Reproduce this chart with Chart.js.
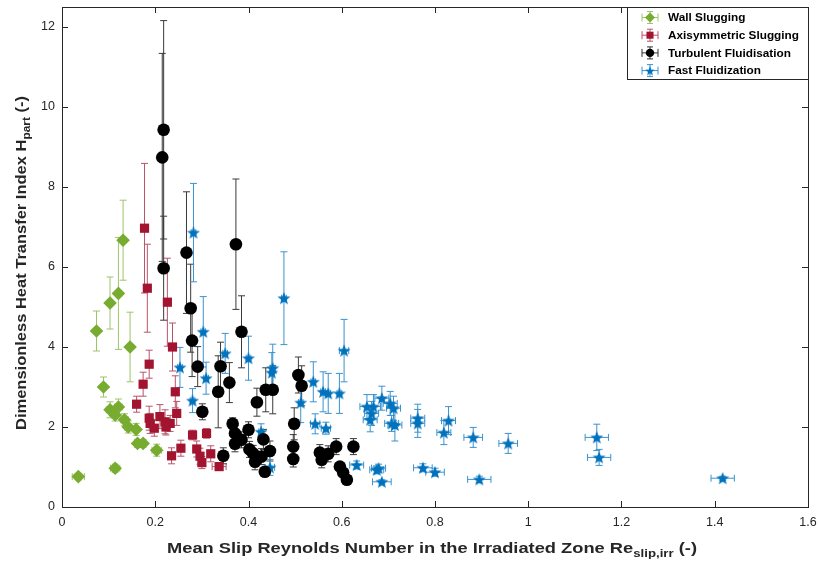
<!DOCTYPE html>
<html>
<head>
<meta charset="utf-8">
<script src="https://cdn.jsdelivr.net/npm/chart.js@4.4.1/dist/chart.umd.min.js"></script>
<style>
  body { margin: 0; background: #fff; }
  #wrap { width: 818px; height: 563px; }
</style>
</head>
<body>
<div id="wrap"><canvas id="heatChart" width="818" height="563"></canvas></div>
<script>
// Data (x = Re_slip,irr, y = H_part, with error half-widths)
const seriesNames = ["Wall Slugging", "Axisymmetric Slugging", "Turbulent Fluidisation", "Fast Fluidization"];

const wallX    = [0.035, 0.114, 0.074, 0.103, 0.121, 0.131, 0.146, 0.089, 0.103, 0.121, 0.114, 0.134, 0.142, 0.159, 0.162, 0.174, 0.203];
const wallY    = [0.76, 0.97, 4.40, 5.10, 5.34, 6.67, 4.00, 3.00, 2.43, 2.50, 2.30, 2.18, 2.00, 1.94, 1.59, 1.59, 1.42];
const wallXErr = [0.013, 0.010, 0.005, 0.005, 0.005, 0.005, 0.005, 0.005, 0.008, 0.008, 0.008, 0.008, 0.008, 0.005, 0.005, 0.005, 0.010];
const wallYErr = [0.08, 0.10, 0.50, 0.65, 1.40, 1.00, 0.87, 0.25, 0.20, 0.20, 0.15, 0.15, 0.15, 0.15, 0.10, 0.10, 0.15];

const axiX    = [0.177, 0.183, 0.226, 0.237, 0.187, 0.174, 0.160, 0.243, 0.246, 0.187, 0.189, 0.198, 0.210, 0.221, 0.232, 0.223, 0.280, 0.310, 0.255, 0.235, 0.289, 0.296, 0.300, 0.319, 0.337];
const axiY    = [6.97, 5.47, 5.12, 4.00, 3.57, 3.07, 2.57, 2.88, 2.34, 2.22, 2.09, 1.97, 2.26, 2.13, 2.09, 2.00, 1.80, 1.84, 1.47, 1.28, 1.45, 1.27, 1.11, 1.33, 1.01];
const axiXErr = [0.005, 0.005, 0.005, 0.005, 0.005, 0.005, 0.005, 0.005, 0.005, 0.005, 0.005, 0.005, 0.005, 0.005, 0.005, 0.005, 0.005, 0.005, 0.005, 0.005, 0.005, 0.005, 0.005, 0.005, 0.015];
const axiYErr = [1.62, 1.10, 1.10, 0.60, 0.35, 0.30, 0.20, 0.40, 0.30, 0.30, 0.25, 0.20, 0.30, 0.30, 0.20, 0.20, 0.12, 0.12, 0.20, 0.20, 0.20, 0.20, 0.15, 0.20, 0.08];

const turbX    = [0.218, 0.215, 0.218, 0.267, 0.373, 0.276, 0.279, 0.291, 0.301, 0.385, 0.340, 0.335, 0.359, 0.418, 0.346, 0.437, 0.452, 0.507, 0.514, 0.498, 0.496, 0.496, 0.366, 0.371, 0.400, 0.371, 0.385, 0.402, 0.410, 0.414, 0.432, 0.446, 0.435, 0.428, 0.553, 0.557, 0.571, 0.588, 0.625, 0.596, 0.603, 0.611];
const turbY    = [9.43, 8.74, 5.97, 6.36, 6.57, 4.97, 4.16, 3.51, 2.38, 4.38, 3.52, 2.88, 3.11, 2.62, 1.28, 2.93, 2.93, 3.30, 3.03, 2.08, 1.51, 1.20, 2.08, 1.84, 1.93, 1.58, 1.68, 1.44, 1.34, 1.13, 1.69, 1.40, 0.88, 1.26, 1.36, 1.18, 1.33, 1.51, 1.51, 1.01, 0.86, 0.68];
const turbXErr = [0.005, 0.005, 0.005, 0.005, 0.005, 0.005, 0.005, 0.005, 0.005, 0.005, 0.005, 0.005, 0.005, 0.005, 0.005, 0.005, 0.005, 0.005, 0.005, 0.005, 0.005, 0.005, 0.005, 0.005, 0.005, 0.005, 0.005, 0.005, 0.005, 0.005, 0.005, 0.005, 0.005, 0.005, 0.010, 0.010, 0.010, 0.010, 0.010, 0.010, 0.010, 0.010];
const turbYErr = [2.73, 2.60, 1.30, 1.52, 1.63, 1.10, 0.90, 0.50, 0.20, 0.90, 0.60, 0.90, 0.50, 0.35, 0.20, 0.55, 0.60, 0.45, 0.50, 0.40, 0.30, 0.20, 0.15, 0.20, 0.20, 0.20, 0.20, 0.20, 0.20, 0.20, 0.25, 0.25, 0.10, 0.20, 0.20, 0.20, 0.20, 0.20, 0.20, 0.10, 0.10, 0.10];

const fastX    = [0.282, 0.303, 0.253, 0.350, 0.400, 0.309, 0.280, 0.476, 0.605, 0.452, 0.450, 0.539, 0.560, 0.571, 0.595, 0.512, 0.543, 0.566, 0.427, 0.446, 0.632, 0.675, 0.679, 0.686, 0.654, 0.664, 0.661, 0.668, 0.686, 0.704, 0.711, 0.707, 0.714, 0.763, 0.763, 0.829, 0.819, 0.882, 0.957, 1.147, 1.152, 0.774, 0.800, 0.895, 1.417];
const fastY    = [6.86, 4.38, 3.49, 3.84, 3.72, 3.22, 2.66, 5.22, 3.91, 3.47, 3.36, 3.13, 2.88, 2.84, 2.84, 2.61, 2.08, 1.97, 1.88, 0.99, 1.05, 0.93, 0.97, 0.63, 2.51, 2.34, 2.18, 2.51, 2.72, 2.59, 2.47, 2.09, 2.05, 2.22, 2.09, 2.16, 1.86, 1.74, 1.59, 1.74, 1.24, 0.98, 0.87, 0.69, 0.72];
const fastXErr = [0.005, 0.005, 0.005, 0.005, 0.005, 0.005, 0.005, 0.005, 0.010, 0.005, 0.005, 0.005, 0.005, 0.005, 0.005, 0.005, 0.010, 0.010, 0.005, 0.010, 0.015, 0.015, 0.015, 0.020, 0.015, 0.015, 0.015, 0.015, 0.015, 0.015, 0.015, 0.015, 0.015, 0.015, 0.015, 0.015, 0.015, 0.020, 0.020, 0.025, 0.025, 0.020, 0.020, 0.025, 0.025];
const fastYErr = [1.23, 0.88, 0.50, 0.50, 0.55, 0.40, 0.30, 1.16, 0.78, 0.60, 0.50, 0.50, 0.50, 0.50, 0.50, 0.50, 0.25, 0.15, 0.20, 0.20, 0.10, 0.10, 0.10, 0.05, 0.30, 0.30, 0.30, 0.30, 0.30, 0.30, 0.30, 0.20, 0.40, 0.35, 0.35, 0.35, 0.30, 0.25, 0.25, 0.33, 0.20, 0.10, 0.10, 0.08, 0.05];

const xTicks = [0, 0.2, 0.4, 0.6, 0.8, 1, 1.2, 1.4, 1.6];
const yTicks = [0, 2, 4, 6, 8, 10, 12];

// colours (MATLAB default palette)
const green = "#77AC30", red = "#A2142F", black = "#000000", blue = "#0072BD";

function makeStar(r, color) {
  const c = document.createElement("canvas");
  const s = Math.ceil(r * 2) + 2;
  c.width = s; c.height = s;
  const g = c.getContext("2d");
  g.fillStyle = color;
  g.beginPath();
  for (let i = 0; i < 10; i++) {
    const rad = i % 2 ? r * 0.42 : r;
    const a = -Math.PI / 2 + i * Math.PI / 5;
    const px = s / 2 + rad * Math.cos(a), py = s / 2 + 0.6 + rad * Math.sin(a);
    if (i === 0) g.moveTo(px, py); else g.lineTo(px, py);
  }
  g.closePath();
  g.fill();
  return c;
}

function pts(xs, ys, xe, ye) {
  return xs.map((x, i) => ({ x: x, y: ys[i], xe: xe[i], ye: ye[i] }));
}

const starBig = makeStar(6.8, blue);
const starSmall = makeStar(5, blue);

const datasets = [
  { label: seriesNames[0], data: pts(wallX, wallY, wallXErr, wallYErr), pointStyle: "rectRot", pointRadius: 6.8,
    backgroundColor: green, borderColor: green, errColor: "#9DC46A" },
  { label: seriesNames[1], data: pts(axiX, axiY, axiXErr, axiYErr), pointStyle: "rect", pointRadius: 6.5,
    backgroundColor: red, borderColor: red, errColor: "#B8546A" },
  { label: seriesNames[2], data: pts(turbX, turbY, turbXErr, turbYErr), pointStyle: "circle", pointRadius: 6.3,
    backgroundColor: black, borderColor: black, errColor: "#3a3a3a" },
  { label: seriesNames[3], data: pts(fastX, fastY, fastXErr, fastYErr), pointStyle: starBig, pointRadius: 6,
    backgroundColor: blue, borderColor: blue, errColor: "#3A93CF" }
];

// error bars drawn below the markers, through the chart scales
const errorBars = {
  id: "errorBars",
  beforeDatasetsDraw(chart) {
    const ctx = chart.ctx, xs = chart.scales.x, ys = chart.scales.y;
    const cap = 3.5;
    ctx.save();
    ctx.lineWidth = 1;
    chart.data.datasets.forEach(ds => {
      ctx.strokeStyle = ds.errColor;
      ds.data.forEach(p => {
        const px = xs.getPixelForValue(p.x), py = ys.getPixelForValue(p.y);
        const y1 = ys.getPixelForValue(p.y - p.ye), y2 = ys.getPixelForValue(p.y + p.ye);
        const x1 = xs.getPixelForValue(p.x - p.xe), x2 = xs.getPixelForValue(p.x + p.xe);
        ctx.beginPath();
        ctx.moveTo(px, y1); ctx.lineTo(px, y2);
        ctx.moveTo(px - cap, y1); ctx.lineTo(px + cap, y1);
        ctx.moveTo(px - cap, y2); ctx.lineTo(px + cap, y2);
        ctx.moveTo(x1, py); ctx.lineTo(x2, py);
        ctx.moveTo(x1, py - cap); ctx.lineTo(x1, py + cap);
        ctx.moveTo(x2, py - cap); ctx.lineTo(x2, py + cap);
        ctx.stroke();
      });
    });
    ctx.restore();
  }
};

// text stretched horizontally to a given width (the reference fonts run wide)
function stretchedParts(ctx, parts, target, align) {
  const w = parts.reduce((s, p) => { ctx.font = p[1]; return s + ctx.measureText(p[0]).width; }, 0);
  const k = target / w;
  ctx.scale(k, 1);
  let x = align === "center" ? -w / 2 : 0;
  parts.forEach(p => {
    ctx.font = p[1];
    ctx.fillText(p[0], x, p[2]);
    x += ctx.measureText(p[0]).width;
  });
}

// axes box, inward ticks, legend and axis titles with subscripts
const frame = {
  id: "frame",
  afterDraw(chart) {
    const ctx = chart.ctx, a = chart.chartArea, xs = chart.scales.x, ys = chart.scales.y;
    ctx.save();
    ctx.strokeStyle = "#262626";
    ctx.lineWidth = 1;
    ctx.strokeRect(Math.round(a.left) + 0.5, Math.round(a.top) + 0.5, Math.round(a.right - a.left), Math.round(a.bottom - a.top));
    ctx.beginPath();
    xTicks.forEach(v => {
      const px = Math.round(xs.getPixelForValue(v)) + 0.5;
      ctx.moveTo(px, a.bottom); ctx.lineTo(px, a.bottom - 6);
      ctx.moveTo(px, a.top); ctx.lineTo(px, a.top + 6);
    });
    yTicks.forEach(v => {
      const py = Math.round(ys.getPixelForValue(v)) + 0.5;
      ctx.moveTo(a.left, py); ctx.lineTo(a.left + 6, py);
      ctx.moveTo(a.right, py); ctx.lineTo(a.right - 6, py);
    });
    ctx.stroke();

    // legend box
    const lx = 627, ly = Math.round(a.top) + 0.5, lw = Math.round(a.right) - lx, lh = 72;
    ctx.fillStyle = "#fff";
    ctx.fillRect(lx, ly, lw, lh);
    ctx.strokeStyle = "#262626";
    ctx.strokeRect(lx + 0.5, ly, lw, lh);
    const icons = [
      { c: "#9DC46A", m: green, s: "rectRot", r: 5 },
      { c: "#B8546A", m: red, s: "rect", r: 5 },
      { c: "#333333", m: black, s: "circle", r: 4.2 },
      { c: "#3A93CF", m: blue, s: starSmall, r: 5 }
    ];
    const legFont = "bold 11.5px 'Liberation Sans', Arial, sans-serif";
    ctx.font = legFont;
    const kLeg = 131 / ctx.measureText(seriesNames[1]).width;
    ctx.textBaseline = "middle";
    seriesNames.forEach((name, i) => {
      const cy = ly + 10 + i * 17.7, cx = 650;
      const ic = icons[i];
      ctx.strokeStyle = ic.c;
      ctx.beginPath();
      ctx.moveTo(cx - 8, cy); ctx.lineTo(cx + 8, cy);
      ctx.moveTo(cx - 8, cy - 4); ctx.lineTo(cx - 8, cy + 4);
      ctx.moveTo(cx + 8, cy - 4); ctx.lineTo(cx + 8, cy + 4);
      ctx.moveTo(cx, cy - 6); ctx.lineTo(cx, cy + 6);
      ctx.moveTo(cx - 3, cy - 6); ctx.lineTo(cx + 3, cy - 6);
      ctx.moveTo(cx - 3, cy + 6); ctx.lineTo(cx + 3, cy + 6);
      ctx.stroke();
      ctx.fillStyle = ic.m;
      Chart.helpers.drawPoint(ctx, { pointStyle: ic.s, radius: ic.r, borderWidth: 0 }, cx, cy);
      ctx.fillStyle = "#000";
      ctx.save();
      ctx.translate(668, cy + 0.5);
      ctx.scale(kLeg, 1);
      ctx.font = legFont;
      ctx.fillText(name, 0, 0);
      ctx.restore();
    });

    // axis titles
    ctx.fillStyle = "#262626";
    const big = "bold 14.5px 'Liberation Sans', Arial, sans-serif";
    const sub = "bold 10.5px 'Liberation Sans', Arial, sans-serif";
    const xParts = [["Mean Slip Reynolds Number in the Irradiated Zone Re", big, 0], ["slip,irr", sub, 4], [" (-)", big, 0]];
    const yParts = [["Dimensionless Heat Transfer Index H", big, 0], ["part", sub, 4], [" (-)", big, 0]];
    ctx.textBaseline = "alphabetic";
    ctx.textAlign = "left";
    ctx.save();
    ctx.translate(432, 553);
    stretchedParts(ctx, xParts, 530, "center");
    ctx.restore();
    ctx.save();
    ctx.translate(26, 263);
    ctx.rotate(-Math.PI / 2);
    stretchedParts(ctx, yParts, 334, "center");
    ctx.restore();
    ctx.restore();
  }
};

const tickFont = { family: "'Liberation Sans Narrow', 'Liberation Sans', Arial, sans-serif", size: 12.5 };

new Chart(document.getElementById("heatChart").getContext("2d"), {
  type: "scatter",
  data: { datasets: datasets },
  options: {
    responsive: false,
    animation: false,
    layout: { padding: { top: 7, right: 10, left: 0, bottom: 0 } },
    plugins: { legend: { display: false }, tooltip: { enabled: false } },
    elements: { point: { borderWidth: 0 } },
    scales: {
      x: {
        type: "linear", min: 0, max: 1.6,
        afterBuildTicks: s => { s.ticks = xTicks.map(v => ({ value: v })); },
        afterFit: s => { s.height = 56; s.paddingLeft = 0; s.paddingRight = 0; },
        grid: { display: false, drawTicks: false },
        border: { display: false },
        ticks: { font: tickFont, color: "#262626", padding: 8, maxRotation: 0, callback: v => String(v) }
      },
      y: {
        type: "linear", min: 0, max: 12.5,
        afterBuildTicks: s => { s.ticks = yTicks.map(v => ({ value: v })); },
        afterFit: s => { s.width = 62; s.paddingTop = 0; s.paddingBottom = 0; },
        grid: { display: false, drawTicks: false },
        border: { display: false },
        ticks: { font: tickFont, color: "#262626", padding: 7, callback: v => String(v) }
      }
    }
  },
  plugins: [errorBars, frame]
});
</script>
</body>
</html>
